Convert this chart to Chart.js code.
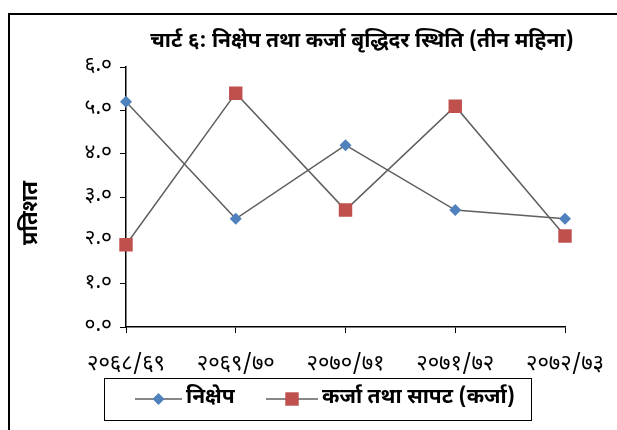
<!DOCTYPE html>
<html><head><meta charset="utf-8">
<script src="https://cdn.jsdelivr.net/npm/chart.js@4.4.1/dist/chart.umd.min.js"></script>
<style>
html,body{margin:0;padding:0;background:#fff;overflow:hidden;width:617px;height:430px;}
#frame{position:absolute;left:8px;top:13px;width:720px;height:500px;border:2px solid #000;box-sizing:border-box;}
#wrap{position:absolute;left:10px;top:15px;width:704px;height:415px;}
</style></head><body>
<div id="frame"></div>
<div id="wrap"><canvas id="c"></canvas></div>
<script>
const categories = ['२०६८/६९', '२०६९/७०', '२०७०/७१', '२०७१/७२', '२०७२/७३'];
const depositGrowth = [5.2, 2.5, 4.2, 2.7, 2.5];
const loanGrowth = [1.9, 5.4, 2.7, 5.1, 2.1];
const yTickLabels = ['०.०', '१.०', '२.०', '३.०', '४.०', '५.०', '६.०'];
const seriesNames = ['निक्षेप', 'कर्जा तथा सापट (कर्जा)'];
const chartTitle = 'चार्ट ६: निक्षेप तथा कर्जा बृद्धिदर स्थिति (तीन महिना)';
const yAxisTitle = 'प्रतिशत';

const FONT = '"Noto Sans Devanagari", "Noto Sans", sans-serif';
const BLUE = '#4F81BD', RED = '#C0504D', LINE = '#5f5f5f';

function marker(ctx, style, x, y, r, color) {
  ctx.save();
  ctx.fillStyle = color;
  ctx.beginPath();
  if (style === 'rectRot') {
    ctx.moveTo(x, y - r); ctx.lineTo(x + r, y); ctx.lineTo(x, y + r); ctx.lineTo(x - r, y);
  } else {
    const s = r * Math.SQRT1_2;
    ctx.rect(x - s, y - s, 2 * s, 2 * s);
  }
  ctx.closePath(); ctx.fill();
  ctx.restore();
}

const extras = {
  id: 'extras',
  afterDraw(chart) {
    const ctx = chart.ctx;
    const ca = chart.chartArea;
    // y-axis title
    ctx.save();
    ctx.translate(23, (ca.top + ca.bottom) / 2 + 16);
    ctx.rotate(-Math.PI / 2);
    ctx.font = 'bold 22px ' + FONT;
    ctx.fillStyle = '#000';
    ctx.textAlign = 'center';
    ctx.textBaseline = 'middle';
    ctx.fillText(yAxisTitle, 0, 0);
    ctx.restore();
    // legend
    const bx = 94, by = 363, bw = 427, bh = 42, cy = by + bh / 2;
    ctx.save();
    ctx.strokeStyle = '#000'; ctx.lineWidth = 1;
    ctx.strokeRect(bx + 0.5, by + 0.5, bw, bh);
    const items = [
      {x0: 125, x1: 172, style: 'rectRot', r: 6, color: BLUE, tx: 176},
      {x0: 256, x1: 308, style: 'rect', r: 9.5, color: RED, tx: 312}
    ];
    ctx.font = 'bold 21px ' + FONT;
    ctx.textBaseline = 'middle';
    ctx.textAlign = 'left';
    items.forEach((it, i) => {
      ctx.strokeStyle = LINE; ctx.lineWidth = 1.5;
      ctx.beginPath(); ctx.moveTo(it.x0, cy); ctx.lineTo(it.x1, cy); ctx.stroke();
      marker(ctx, it.style, (it.x0 + it.x1) / 2, cy, it.r, it.color);
      ctx.fillStyle = '#000';
      ctx.fillText(seriesNames[i], it.tx, cy);
    });
    ctx.restore();
  }
};

new Chart(document.getElementById('c'), {
  type: 'line',
  data: {
    labels: categories,
    datasets: [
      {label: seriesNames[0], data: depositGrowth, borderColor: LINE, borderWidth: 1.5,
       pointStyle: 'rectRot', pointRadius: 6, pointHoverRadius: 6,
       pointBackgroundColor: BLUE, pointBorderColor: BLUE, pointBorderWidth: 0, tension: 0},
      {label: seriesNames[1], data: loanGrowth, borderColor: LINE, borderWidth: 1.5,
       pointStyle: 'rect', pointRadius: 9.5, pointHoverRadius: 9.5,
       pointBackgroundColor: RED, pointBorderColor: RED, pointBorderWidth: 0, tension: 0}
    ]
  },
  options: {
    responsive: true,
    maintainAspectRatio: false,
    animation: false,
    events: [],
    layout: {padding: 0},
    plugins: {
      legend: {display: false},
      tooltip: {enabled: false},
      title: {
        display: true, text: chartTitle, color: '#000',
        font: {family: FONT, size: 21, weight: 'bold', lineHeight: 1.2},
        padding: {top: 15, bottom: 12}
      }
    },
    scales: {
      x: {
        type: 'category', offset: false,
        grid: {display: true, drawOnChartArea: false, drawTicks: true, tickLength: 6, color: '#000', lineWidth: 1},
        border: {display: true, color: '#000', width: 1.5},
        ticks: {color: '#000', font: {family: FONT, size: 22}, padding: 20, maxRotation: 0, autoSkip: false},
        afterFit(scale) { scale.height = 103; }
      },
      y: {
        min: 0, max: 6,
        grid: {display: true, drawOnChartArea: false, drawTicks: true, tickLength: 6, color: '#000', lineWidth: 1},
        border: {display: true, color: '#000', width: 1.5},
        ticks: {stepSize: 1, color: '#000', font: {family: FONT, size: 21}, padding: 8,
                callback: (v, i) => yTickLabels[i]},
        afterFit(scale) { scale.width = 116; }
      },
      yRightSpace: {
        position: 'right', display: true, min: 0, max: 6,
        grid: {display: false}, border: {display: false}, ticks: {display: false},
        afterFit(scale) { scale.width = 149; }
      }
    }
  },
  plugins: [extras]
});
</script>
</body></html>
